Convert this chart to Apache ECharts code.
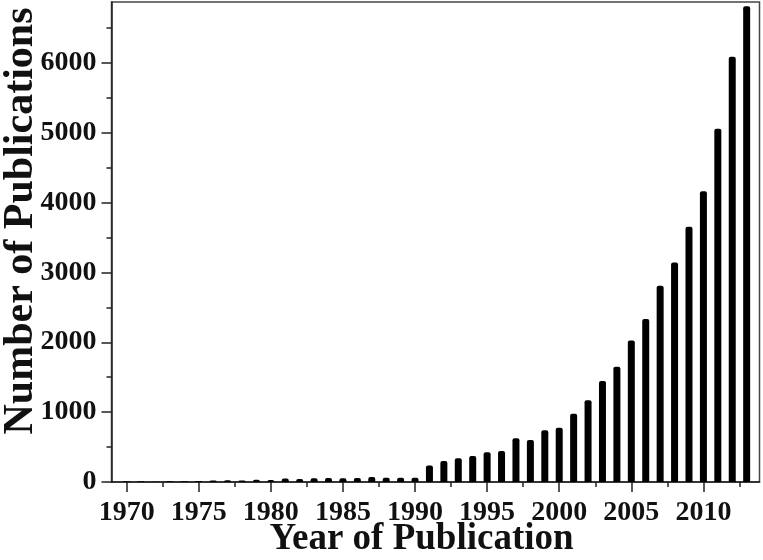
<!DOCTYPE html>
<html>
<head>
<meta charset="utf-8">
<script src="https://cdn.jsdelivr.net/npm/echarts@6/dist/echarts.min.js"></script>
<style>
html,body{margin:0;padding:0;background:#fff;}
#chart{width:763px;height:560px;}
</style>
</head>
<body>
<div id="chart"></div>
<script>
const years = [1970,1971,1972,1973,1974,1975,1976,1977,1978,1979,1980,1981,1982,1983,1984,1985,1986,1987,1988,1989,1990,1991,1992,1993,1994,1995,1996,1997,1998,1999,2000,2001,2002,2003,2004,2005,2006,2007,2008,2009,2010,2011,2012,2013];
const publications = [10,10,5,10,10,15,20,25,20,33,28,50,43,52,57,52,57,72,62,62,62,235,300,339,372,425,443,625,601,740,777,977,1170,1445,1650,2027,2332,2808,3143,3652,4163,5055,6085,6810];
const xMajorTicks = [1970,1975,1980,1985,1990,1995,2000,2005,2010];
const xMinorTicks = [1972.5,1977.5,1982.5,1987.5,1992.5,1997.5,2002.5,2007.5,2012.5];
const yMajorTicks = [0,1000,2000,3000,4000,5000,6000];
const yMinorTicks = [500,1500,2500,3500,4500,5500,6500];

const font = '"Liberation Serif", "Times New Roman", serif';
const lineColor = '#222';
const X_MIN = 1968.95, X_MAX = 2013.89, Y_MIN = 0, Y_MAX = 6870;

const chart = echarts.init(document.getElementById('chart'), null, {renderer: 'canvas'});
chart.setOption({
  animation: false,
  backgroundColor: '#fff',
  grid: {left: 111.5, right: 3.5, top: 2, bottom: 78, containLabel: false, outerBoundsMode: 'none', show: true, borderColor: '#444', borderWidth: 1.5, backgroundColor: 'transparent'},
  xAxis: [
    {
      type: 'value', min: X_MIN, max: X_MAX, position: 'bottom',
      axisLine: {show: true, onZero: false, lineStyle: {color: lineColor, width: 1.5}},
      axisTick: {show: true, inside: false, length: 10, customValues: xMajorTicks, lineStyle: {color: lineColor, width: 1.5}},
      axisLabel: {show: true, customValues: xMajorTicks, margin: 17, fontFamily: font, fontWeight: 'bold', fontSize: 28, color: '#111', formatter: v => String(v)},
      splitLine: {show: false},
      name: 'Year of Publication', nameLocation: 'middle', nameGap: 39, nameMoveOverlap: false,
      nameTextStyle: {fontFamily: font, fontWeight: 'bold', fontSize: 37, color: '#111', padding: [0, 28, 0, 0]}
    },
    {
      type: 'value', min: X_MIN, max: X_MAX, position: 'bottom',
      axisLine: {show: false},
      axisTick: {show: true, inside: false, length: 5, customValues: xMinorTicks, lineStyle: {color: lineColor, width: 1.5}},
      axisLabel: {show: false},
      splitLine: {show: false}
    }
  ],
  yAxis: [
    {
      type: 'value', min: Y_MIN, max: Y_MAX, position: 'left',
      axisLine: {show: true, onZero: false, lineStyle: {color: lineColor, width: 1.5}},
      axisTick: {show: true, inside: false, length: 10, customValues: yMajorTicks, lineStyle: {color: lineColor, width: 1.5}},
      axisLabel: {show: true, customValues: yMajorTicks, margin: 15, fontFamily: font, fontWeight: 'bold', fontSize: 28, color: '#111', formatter: v => String(v)},
      splitLine: {show: false},
      name: 'Number of Publications', nameLocation: 'middle', nameGap: 69, nameRotate: 90, nameMoveOverlap: false,
      nameTextStyle: {fontFamily: font, fontWeight: 'bold', fontSize: 42, color: '#111', padding: [0, 0, 0, 42]}
    },
    {
      type: 'value', min: Y_MIN, max: Y_MAX, position: 'left',
      axisLine: {show: false},
      axisTick: {show: true, inside: false, length: 5, customValues: yMinorTicks, lineStyle: {color: lineColor, width: 1.5}},
      axisLabel: {show: false},
      splitLine: {show: false}
    }
  ],
  series: [{
    type: 'bar',
    xAxisIndex: 0, yAxisIndex: 0,
    barWidth: 7,
    itemStyle: {color: '#000', borderRadius: [2,2,0,0]},
    data: years.map((y, i) => [y, publications[i]])
  }]
});
</script>
</body>
</html>
